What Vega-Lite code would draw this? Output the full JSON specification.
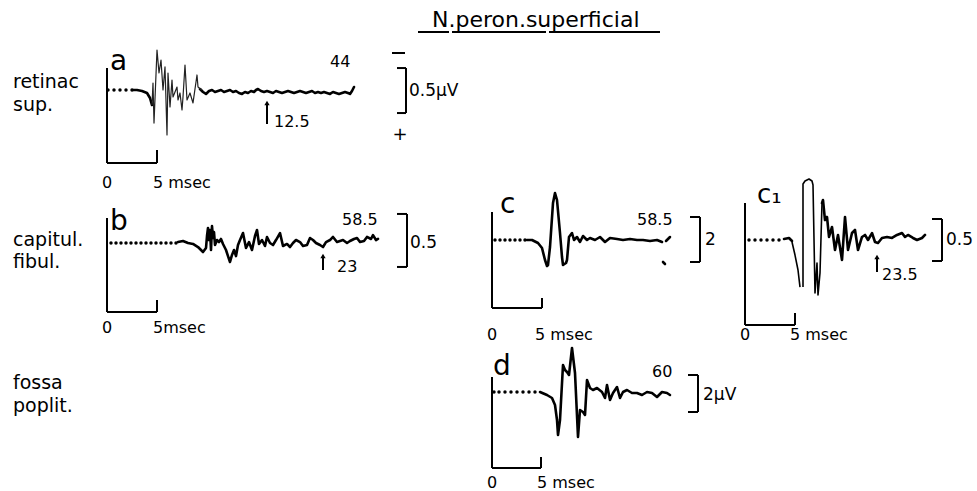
{
"$schema": "https://vega.github.io/schema/vega-lite/v6.json",
"width": 977, "height": 491, "autosize": {"type": "none"}, "padding": 0, "background": "white",
"config": {"view": {"stroke": null}, "text": {"font": "DejaVu Sans", "color": "black"}},
"data": {"values": [
{"panel":"a","part":"dot","t":0.1,"v":0},{"panel":"a","part":"dot","t":0.7,"v":0},{"panel":"a","part":"dot","t":1.3,"v":0},{"panel":"a","part":"dot","t":1.9,"v":0},{"panel":"a","part":"dot","t":2.5,"v":0},
{"panel":"a","part":"trace","seg":1,"t":2.6,"v":0},{"panel":"a","part":"trace","seg":1,"t":3.0,"v":0},{"panel":"a","part":"trace","seg":1,"t":3.5,"v":-0.011},{"panel":"a","part":"trace","seg":1,"t":4.0,"v":-0.033},{"panel":"a","part":"trace","seg":1,"t":4.3,"v":-0.089},{"panel":"a","part":"trace","seg":1,"t":4.5,"v":-0.167},
{"panel":"a","part":"thin","seg":2,"t":4.5,"v":-0.167},{"panel":"a","part":"thin","seg":2,"t":4.6,"v":0.078},{"panel":"a","part":"thin","seg":2,"t":4.7,"v":-0.367},{"panel":"a","part":"thin","seg":2,"t":5.0,"v":0.444},{"panel":"a","part":"thin","seg":2,"t":5.2,"v":0.189},{"panel":"a","part":"thin","seg":2,"t":5.4,"v":0.333},{"panel":"a","part":"thin","seg":2,"t":5.6,"v":0},{"panel":"a","part":"thin","seg":2,"t":5.8,"v":0.256},{"panel":"a","part":"thin","seg":2,"t":6.0,"v":-0.5},{"panel":"a","part":"thin","seg":2,"t":6.1,"v":0.189},{"panel":"a","part":"thin","seg":2,"t":6.3,"v":-0.189},{"panel":"a","part":"thin","seg":2,"t":6.5,"v":0.111},{"panel":"a","part":"thin","seg":2,"t":6.6,"v":-0.078},{"panel":"a","part":"thin","seg":2,"t":7.0,"v":0.033},{"panel":"a","part":"thin","seg":2,"t":7.1,"v":-0.111},{"panel":"a","part":"thin","seg":2,"t":7.3,"v":-0.033},{"panel":"a","part":"thin","seg":2,"t":7.5,"v":-0.222},{"panel":"a","part":"thin","seg":2,"t":7.6,"v":-0.078},{"panel":"a","part":"thin","seg":2,"t":7.8,"v":0.278},{"panel":"a","part":"thin","seg":2,"t":8.0,"v":-0.111},{"panel":"a","part":"thin","seg":2,"t":8.3,"v":-0.033},{"panel":"a","part":"thin","seg":2,"t":8.6,"v":-0.144},{"panel":"a","part":"thin","seg":2,"t":9.0,"v":0.167},{"panel":"a","part":"thin","seg":2,"t":9.1,"v":0.033},{"panel":"a","part":"thin","seg":2,"t":9.5,"v":0},
{"panel":"a","part":"trace","seg":3,"t":9.3,"v":0.011},{"panel":"a","part":"trace","seg":3,"t":9.6,"v":-0.022},{"panel":"a","part":"trace","seg":3,"t":9.9,"v":-0.044},{"panel":"a","part":"trace","seg":3,"t":10.2,"v":-0.011},{"panel":"a","part":"trace","seg":3,"t":10.5,"v":0},{"panel":"a","part":"trace","seg":3,"t":10.8,"v":-0.022},{"panel":"a","part":"trace","seg":3,"t":11.1,"v":-0.011},{"panel":"a","part":"trace","seg":3,"t":11.4,"v":0},{"panel":"a","part":"trace","seg":3,"t":11.7,"v":-0.022},{"panel":"a","part":"trace","seg":3,"t":12.0,"v":-0.011},{"panel":"a","part":"trace","seg":3,"t":12.3,"v":0},{"panel":"a","part":"trace","seg":3,"t":12.6,"v":-0.022},{"panel":"a","part":"trace","seg":3,"t":12.9,"v":-0.011},{"panel":"a","part":"trace","seg":3,"t":13.2,"v":-0.033},{"panel":"a","part":"trace","seg":3,"t":13.5,"v":-0.044},{"panel":"a","part":"trace","seg":3,"t":13.8,"v":-0.022},{"panel":"a","part":"trace","seg":3,"t":14.1,"v":-0.033},{"panel":"a","part":"trace","seg":3,"t":14.4,"v":-0.011},{"panel":"a","part":"trace","seg":3,"t":14.7,"v":-0.022},{"panel":"a","part":"trace","seg":3,"t":14.9,"v":0},{"panel":"a","part":"trace","seg":3,"t":15.1,"v":0.011},{"panel":"a","part":"trace","seg":3,"t":15.4,"v":-0.011},{"panel":"a","part":"trace","seg":3,"t":15.7,"v":-0.022},{"panel":"a","part":"trace","seg":3,"t":16.0,"v":-0.011},{"panel":"a","part":"trace","seg":3,"t":16.3,"v":-0.022},{"panel":"a","part":"trace","seg":3,"t":16.6,"v":-0.033},{"panel":"a","part":"trace","seg":3,"t":16.9,"v":-0.011},{"panel":"a","part":"trace","seg":3,"t":17.2,"v":-0.022},{"panel":"a","part":"trace","seg":3,"t":17.5,"v":-0.033},{"panel":"a","part":"trace","seg":3,"t":17.8,"v":-0.022},{"panel":"a","part":"trace","seg":3,"t":18.1,"v":-0.011},{"panel":"a","part":"trace","seg":3,"t":18.4,"v":-0.022},{"panel":"a","part":"trace","seg":3,"t":18.7,"v":-0.033},{"panel":"a","part":"trace","seg":3,"t":19.0,"v":-0.022},{"panel":"a","part":"trace","seg":3,"t":19.3,"v":-0.011},{"panel":"a","part":"trace","seg":3,"t":19.6,"v":-0.022},{"panel":"a","part":"trace","seg":3,"t":19.9,"v":-0.033},{"panel":"a","part":"trace","seg":3,"t":20.2,"v":-0.022},{"panel":"a","part":"trace","seg":3,"t":20.5,"v":-0.011},{"panel":"a","part":"trace","seg":3,"t":20.8,"v":-0.033},{"panel":"a","part":"trace","seg":3,"t":21.1,"v":-0.022},{"panel":"a","part":"trace","seg":3,"t":21.4,"v":-0.033},{"panel":"a","part":"trace","seg":3,"t":21.7,"v":-0.022},{"panel":"a","part":"trace","seg":3,"t":22.0,"v":-0.033},{"panel":"a","part":"trace","seg":3,"t":22.3,"v":-0.044},{"panel":"a","part":"trace","seg":3,"t":22.6,"v":-0.022},{"panel":"a","part":"trace","seg":3,"t":22.9,"v":-0.033},{"panel":"a","part":"trace","seg":3,"t":23.2,"v":-0.044},{"panel":"a","part":"trace","seg":3,"t":23.5,"v":-0.033},{"panel":"a","part":"trace","seg":3,"t":23.8,"v":-0.022},{"panel":"a","part":"trace","seg":3,"t":24.1,"v":-0.033},{"panel":"a","part":"trace","seg":3,"t":24.3,"v":-0.044},{"panel":"a","part":"trace","seg":3,"t":24.5,"v":-0.011},{"panel":"a","part":"trace","seg":3,"t":24.7,"v":0.033},
{"panel":"a","part":"rule","t":0,"v":0.244,"t2":0,"v2":-0.811},{"panel":"a","part":"rule","t":0,"v":-0.811,"t2":5,"v2":-0.811},{"panel":"a","part":"rule","t":5,"v":-0.667,"t2":5,"v2":-0.811},{"panel":"a","part":"rule","t":29.9,"v":0.244,"t2":29.9,"v2":-0.256},{"panel":"a","part":"rule","t":29.0,"v":0.244,"t2":29.9,"v2":0.244},{"panel":"a","part":"rule","t":29.0,"v":-0.256,"t2":29.9,"v2":-0.256},{"panel":"a","part":"rule","t":28.5,"v":0.411,"t2":29.8,"v2":0.411},{"panel":"a","part":"rule","t":16.0,"v":-0.144,"t2":16.0,"v2":-0.378},
{"panel":"a","part":"head","t":16.0,"v":-0.144},
{"panel":"a","part":"letter","t":0.3,"v":0.222,"text":"a"},{"panel":"a","part":"num","t":22.3,"v":0.256,"text":"44"},{"panel":"a","part":"num","t":16.7,"v":-0.411,"text":"12.5"},{"panel":"a","part":"num","t":-0.5,"v":-1.089,"text":"0"},{"panel":"a","part":"num","t":4.6,"v":-1.089,"text":"5 msec"},{"panel":"a","part":"unit","t":30.2,"v":-0.011,"text":"0.5µV"},{"panel":"a","part":"sign","t":29.3,"v":-0.5,"text":"+"},{"panel":"a","part":"row","t":-9.4,"v":0.022,"text":"retinac"},{"panel":"a","part":"row","t":-9.4,"v":-0.233,"text":"sup."},

{"panel":"b","part":"dot","t":0.4,"v":0},{"panel":"b","part":"dot","t":0.9,"v":0},{"panel":"b","part":"dot","t":1.4,"v":0},{"panel":"b","part":"dot","t":1.9,"v":0},{"panel":"b","part":"dot","t":2.4,"v":0},{"panel":"b","part":"dot","t":2.9,"v":0},{"panel":"b","part":"dot","t":3.4,"v":0},{"panel":"b","part":"dot","t":3.9,"v":0},{"panel":"b","part":"dot","t":4.4,"v":0},{"panel":"b","part":"dot","t":4.9,"v":0},{"panel":"b","part":"dot","t":5.4,"v":0},{"panel":"b","part":"dot","t":5.9,"v":0},{"panel":"b","part":"dot","t":6.4,"v":0},{"panel":"b","part":"dot","t":6.9,"v":0},
{"panel":"b","part":"trace","seg":1,"t":7.1,"v":0.009},{"panel":"b","part":"trace","seg":1,"t":7.6,"v":0.019},{"panel":"b","part":"trace","seg":1,"t":8.1,"v":0},{"panel":"b","part":"trace","seg":1,"t":8.6,"v":-0.009},{"panel":"b","part":"trace","seg":1,"t":9.1,"v":-0.038},{"panel":"b","part":"trace","seg":1,"t":9.6,"v":-0.085},{"panel":"b","part":"trace","seg":1,"t":9.9,"v":-0.047},{"panel":"b","part":"trace","seg":1,"t":10.0,"v":0.066},{"panel":"b","part":"trace","seg":1,"t":10.1,"v":0.142},{"panel":"b","part":"trace","seg":1,"t":10.2,"v":0.028},{"panel":"b","part":"trace","seg":1,"t":10.3,"v":0.123},{"panel":"b","part":"trace","seg":1,"t":10.4,"v":-0.066},{"panel":"b","part":"trace","seg":1,"t":10.5,"v":0.160},{"panel":"b","part":"trace","seg":1,"t":10.6,"v":0.047},{"panel":"b","part":"trace","seg":1,"t":10.7,"v":0.104},{"panel":"b","part":"trace","seg":1,"t":10.8,"v":-0.019},{"panel":"b","part":"trace","seg":1,"t":11.0,"v":0.028},{"panel":"b","part":"trace","seg":1,"t":11.2,"v":0.009},{"panel":"b","part":"trace","seg":1,"t":11.4,"v":0.038},{"panel":"b","part":"trace","seg":1,"t":11.6,"v":-0.009},{"panel":"b","part":"trace","seg":1,"t":11.9,"v":-0.066},{"panel":"b","part":"trace","seg":1,"t":12.1,"v":-0.123},{"panel":"b","part":"trace","seg":1,"t":12.3,"v":-0.179},{"panel":"b","part":"trace","seg":1,"t":12.5,"v":-0.113},{"panel":"b","part":"trace","seg":1,"t":12.7,"v":-0.066},{"panel":"b","part":"trace","seg":1,"t":12.9,"v":-0.123},{"panel":"b","part":"trace","seg":1,"t":13.1,"v":-0.019},{"panel":"b","part":"trace","seg":1,"t":13.3,"v":0.028},{"panel":"b","part":"trace","seg":1,"t":13.6,"v":0.094},{"panel":"b","part":"trace","seg":1,"t":13.9,"v":-0.047},{"panel":"b","part":"trace","seg":1,"t":14.2,"v":0.009},{"panel":"b","part":"trace","seg":1,"t":14.5,"v":-0.066},{"panel":"b","part":"trace","seg":1,"t":14.8,"v":0.066},{"panel":"b","part":"trace","seg":1,"t":15.0,"v":0.123},{"panel":"b","part":"trace","seg":1,"t":15.2,"v":-0.009},{"panel":"b","part":"trace","seg":1,"t":15.5,"v":0.028},{"panel":"b","part":"trace","seg":1,"t":15.8,"v":-0.028},{"panel":"b","part":"trace","seg":1,"t":16.0,"v":0.057},{"panel":"b","part":"trace","seg":1,"t":16.3,"v":0},{"panel":"b","part":"trace","seg":1,"t":16.6,"v":-0.019},{"panel":"b","part":"trace","seg":1,"t":16.9,"v":0.028},{"panel":"b","part":"trace","seg":1,"t":17.3,"v":0.094},{"panel":"b","part":"trace","seg":1,"t":17.6,"v":-0.028},{"panel":"b","part":"trace","seg":1,"t":18.0,"v":-0.009},{"panel":"b","part":"trace","seg":1,"t":18.3,"v":-0.038},{"panel":"b","part":"trace","seg":1,"t":18.6,"v":0},{"panel":"b","part":"trace","seg":1,"t":18.9,"v":0.028},{"panel":"b","part":"trace","seg":1,"t":19.3,"v":0.009},{"panel":"b","part":"trace","seg":1,"t":19.6,"v":-0.028},{"panel":"b","part":"trace","seg":1,"t":20.0,"v":-0.019},{"panel":"b","part":"trace","seg":1,"t":20.3,"v":0.047},{"panel":"b","part":"trace","seg":1,"t":20.6,"v":0.028},{"panel":"b","part":"trace","seg":1,"t":20.9,"v":0},{"panel":"b","part":"trace","seg":1,"t":21.3,"v":-0.019},{"panel":"b","part":"trace","seg":1,"t":21.6,"v":-0.038},{"panel":"b","part":"trace","seg":1,"t":21.9,"v":0.009},{"panel":"b","part":"trace","seg":1,"t":22.3,"v":0.028},{"panel":"b","part":"trace","seg":1,"t":22.6,"v":0.057},{"panel":"b","part":"trace","seg":1,"t":23.0,"v":0.009},{"panel":"b","part":"trace","seg":1,"t":23.3,"v":0.019},{"panel":"b","part":"trace","seg":1,"t":23.6,"v":0.028},{"panel":"b","part":"trace","seg":1,"t":24.0,"v":0},{"panel":"b","part":"trace","seg":1,"t":24.3,"v":0.019},{"panel":"b","part":"trace","seg":1,"t":24.7,"v":0.038},{"panel":"b","part":"trace","seg":1,"t":25.0,"v":0.047},{"panel":"b","part":"trace","seg":1,"t":25.3,"v":0.009},{"panel":"b","part":"trace","seg":1,"t":25.7,"v":0.019},{"panel":"b","part":"trace","seg":1,"t":26.0,"v":0.057},{"panel":"b","part":"trace","seg":1,"t":26.4,"v":0.038},{"panel":"b","part":"trace","seg":1,"t":26.6,"v":0.075},{"panel":"b","part":"trace","seg":1,"t":26.9,"v":0.028},{"panel":"b","part":"trace","seg":1,"t":27.1,"v":0.038},
{"panel":"b","part":"rule","t":0,"v":0.236,"t2":0,"v2":-0.651},{"panel":"b","part":"rule","t":0,"v":-0.651,"t2":5,"v2":-0.651},{"panel":"b","part":"rule","t":5,"v":-0.538,"t2":5,"v2":-0.651},{"panel":"b","part":"rule","t":30.0,"v":0.274,"t2":30.0,"v2":-0.226},{"panel":"b","part":"rule","t":29.0,"v":0.274,"t2":30.0,"v2":0.274},{"panel":"b","part":"rule","t":29.0,"v":-0.226,"t2":30.0,"v2":-0.226},{"panel":"b","part":"rule","t":21.6,"v":-0.123,"t2":21.6,"v2":-0.255},
{"panel":"b","part":"head","t":21.6,"v":-0.123},
{"panel":"b","part":"letter","t":0.3,"v":0.123,"text":"b"},{"panel":"b","part":"num","t":23.5,"v":0.170,"text":"58.5"},{"panel":"b","part":"num","t":23.0,"v":-0.274,"text":"23"},{"panel":"b","part":"num","t":-0.5,"v":-0.849,"text":"0"},{"panel":"b","part":"num","t":4.6,"v":-0.849,"text":"5msec"},{"panel":"b","part":"unit","t":30.3,"v":0,"text":"0.5"},{"panel":"b","part":"row","t":-9.4,"v":-0.028,"text":"capitul."},{"panel":"b","part":"row","t":-9.4,"v":-0.236,"text":"fibul."},

{"panel":"c","part":"dot","t":0.3,"v":0},{"panel":"c","part":"dot","t":0.8,"v":0},{"panel":"c","part":"dot","t":1.3,"v":0},{"panel":"c","part":"dot","t":1.8,"v":0},{"panel":"c","part":"dot","t":2.3,"v":0},{"panel":"c","part":"dot","t":2.8,"v":0},{"panel":"c","part":"dot","t":3.3,"v":0},
{"panel":"c","part":"trace","seg":1,"t":3.5,"v":0},{"panel":"c","part":"trace","seg":1,"t":4.0,"v":0},{"panel":"c","part":"trace","seg":1,"t":4.6,"v":-0.133},{"panel":"c","part":"trace","seg":1,"t":5.0,"v":-0.356},{"panel":"c","part":"trace","seg":1,"t":5.3,"v":-0.889},{"panel":"c","part":"trace","seg":1,"t":5.5,"v":-1.156},{"panel":"c","part":"trace","seg":1,"t":5.6,"v":-1.111},{"panel":"c","part":"trace","seg":1,"t":5.8,"v":-0.311},{"panel":"c","part":"trace","seg":1,"t":6.1,"v":1.644},{"panel":"c","part":"trace","seg":1,"t":6.3,"v":2.089},{"panel":"c","part":"trace","seg":1,"t":6.5,"v":1.778},{"panel":"c","part":"trace","seg":1,"t":6.8,"v":0.311},{"panel":"c","part":"trace","seg":1,"t":7.0,"v":-0.756},{"panel":"c","part":"trace","seg":1,"t":7.1,"v":-1.111},{"panel":"c","part":"trace","seg":1,"t":7.4,"v":-1.022},{"panel":"c","part":"trace","seg":1,"t":7.5,"v":-0.889},{"panel":"c","part":"trace","seg":1,"t":7.7,"v":0.133},{"panel":"c","part":"trace","seg":1,"t":8.0,"v":0.311},{"panel":"c","part":"trace","seg":1,"t":8.2,"v":0},{"panel":"c","part":"trace","seg":1,"t":8.5,"v":0.133},{"panel":"c","part":"trace","seg":1,"t":8.8,"v":-0.089},{"panel":"c","part":"trace","seg":1,"t":9.1,"v":0.178},{"panel":"c","part":"trace","seg":1,"t":9.5,"v":0},{"panel":"c","part":"trace","seg":1,"t":9.8,"v":0.089},{"panel":"c","part":"trace","seg":1,"t":10.3,"v":0},{"panel":"c","part":"trace","seg":1,"t":10.8,"v":0.133},{"panel":"c","part":"trace","seg":1,"t":11.3,"v":-0.089},{"panel":"c","part":"trace","seg":1,"t":11.8,"v":0.089},{"panel":"c","part":"trace","seg":1,"t":12.5,"v":0.044},{"panel":"c","part":"trace","seg":1,"t":13.1,"v":0},{"panel":"c","part":"trace","seg":1,"t":13.8,"v":0.044},{"panel":"c","part":"trace","seg":1,"t":14.5,"v":0},{"panel":"c","part":"trace","seg":1,"t":15.1,"v":0},{"panel":"c","part":"trace","seg":1,"t":15.8,"v":-0.044},{"panel":"c","part":"trace","seg":1,"t":16.5,"v":0},{"panel":"c","part":"trace","seg":1,"t":17.0,"v":-0.089},
{"panel":"c","part":"trace","seg":2,"t":17.4,"v":-0.044},{"panel":"c","part":"trace","seg":2,"t":17.8,"v":0.133},
{"panel":"c","part":"trace","seg":3,"t":17.1,"v":-0.978},{"panel":"c","part":"trace","seg":3,"t":17.3,"v":-1.067},
{"panel":"c","part":"rule","t":0,"v":1.244,"t2":0,"v2":-3.022},{"panel":"c","part":"rule","t":0,"v":-3.022,"t2":5,"v2":-3.022},{"panel":"c","part":"rule","t":5,"v":-2.578,"t2":5,"v2":-3.022},{"panel":"c","part":"rule","t":20.8,"v":1.022,"t2":20.8,"v2":-0.978},{"panel":"c","part":"rule","t":19.8,"v":1.022,"t2":20.8,"v2":1.022},{"panel":"c","part":"rule","t":19.8,"v":-0.978,"t2":20.8,"v2":-0.978},
{"panel":"c","part":"rule","t":-7.4,"v":9.244,"t2":-4.3,"v2":9.244},{"panel":"c","part":"rule","t":-4.0,"v":9.244,"t2":5.4,"v2":9.244},{"panel":"c","part":"rule","t":5.7,"v":9.244,"t2":16.8,"v2":9.244},
{"panel":"c","part":"letter","t":0.8,"v":1.2,"text":"c"},{"panel":"c","part":"num","t":14.5,"v":0.667,"text":"58.5"},{"panel":"c","part":"num","t":-0.5,"v":-4.444,"text":"0"},{"panel":"c","part":"num","t":4.3,"v":-4.444,"text":"5 msec"},{"panel":"c","part":"unit","t":21.3,"v":0,"text":"2"},{"panel":"c","part":"title","t":-6.0,"v":9.467,"text":"N.peron.superficial"},

{"panel":"c1","part":"dot","t":0.4,"v":0},{"panel":"c1","part":"dot","t":1.0,"v":0},{"panel":"c1","part":"dot","t":1.6,"v":0},{"panel":"c1","part":"dot","t":2.2,"v":0},{"panel":"c1","part":"dot","t":2.8,"v":0},{"panel":"c1","part":"dot","t":3.4,"v":0},
{"panel":"c1","part":"trace","seg":1,"t":3.9,"v":0.012},{"panel":"c1","part":"trace","seg":1,"t":4.4,"v":0.024},{"panel":"c1","part":"trace","seg":1,"t":4.7,"v":-0.012},
{"panel":"c1","part":"thin","seg":2,"t":4.7,"v":-0.024},{"panel":"c1","part":"thin","seg":2,"t":5.0,"v":-0.179},{"panel":"c1","part":"thin","seg":2,"t":5.3,"v":-0.357},{"panel":"c1","part":"thin","seg":2,"t":5.5,"v":-0.560},
{"panel":"c1","part":"thin","seg":3,"t":5.8,"v":-0.560},{"panel":"c1","part":"thin","seg":3,"t":5.8,"v":0.667},{"panel":"c1","part":"thin","seg":3,"t":6.0,"v":0.702},{"panel":"c1","part":"thin","seg":3,"t":6.4,"v":0.726},{"panel":"c1","part":"thin","seg":3,"t":6.7,"v":0.702},{"panel":"c1","part":"thin","seg":3,"t":6.8,"v":0.655},{"panel":"c1","part":"thin","seg":3,"t":7.0,"v":-0.631},{"panel":"c1","part":"thin","seg":3,"t":7.2,"v":-0.274},{"panel":"c1","part":"thin","seg":3,"t":7.3,"v":-0.655},{"panel":"c1","part":"thin","seg":3,"t":7.5,"v":-0.393},{"panel":"c1","part":"thin","seg":3,"t":7.7,"v":0.440},
{"panel":"c1","part":"trace","seg":4,"t":7.7,"v":0.440},{"panel":"c1","part":"trace","seg":4,"t":7.8,"v":0.476},{"panel":"c1","part":"trace","seg":4,"t":8.0,"v":0.238},{"panel":"c1","part":"trace","seg":4,"t":8.2,"v":0.274},{"panel":"c1","part":"trace","seg":4,"t":8.4,"v":0.036},{"panel":"c1","part":"trace","seg":4,"t":8.7,"v":0.155},{"panel":"c1","part":"trace","seg":4,"t":9.0,"v":-0.119},{"panel":"c1","part":"trace","seg":4,"t":9.3,"v":0.060},{"panel":"c1","part":"trace","seg":4,"t":9.7,"v":-0.238},{"panel":"c1","part":"trace","seg":4,"t":10.0,"v":0.274},{"panel":"c1","part":"trace","seg":4,"t":10.3,"v":-0.119},{"panel":"c1","part":"trace","seg":4,"t":10.7,"v":0.083},{"panel":"c1","part":"trace","seg":4,"t":11.0,"v":0.119},{"panel":"c1","part":"trace","seg":4,"t":11.3,"v":-0.119},{"panel":"c1","part":"trace","seg":4,"t":11.7,"v":0.036},{"panel":"c1","part":"trace","seg":4,"t":12.0,"v":0.060},{"panel":"c1","part":"trace","seg":4,"t":12.3,"v":0},{"panel":"c1","part":"trace","seg":4,"t":12.7,"v":0.083},{"panel":"c1","part":"trace","seg":4,"t":13.0,"v":-0.024},{"panel":"c1","part":"trace","seg":4,"t":13.3,"v":-0.036},{"panel":"c1","part":"trace","seg":4,"t":13.7,"v":0.024},{"panel":"c1","part":"trace","seg":4,"t":14.2,"v":0.036},{"panel":"c1","part":"trace","seg":4,"t":14.7,"v":0.024},{"panel":"c1","part":"trace","seg":4,"t":15.2,"v":0.060},{"panel":"c1","part":"trace","seg":4,"t":15.7,"v":0.083},{"panel":"c1","part":"trace","seg":4,"t":16.0,"v":0.036},{"panel":"c1","part":"trace","seg":4,"t":16.3,"v":0.060},{"panel":"c1","part":"trace","seg":4,"t":16.8,"v":0.024},{"panel":"c1","part":"trace","seg":4,"t":17.2,"v":0},{"panel":"c1","part":"trace","seg":4,"t":17.7,"v":0.024},{"panel":"c1","part":"trace","seg":4,"t":18.0,"v":0.060},
{"panel":"c1","part":"rule","t":0,"v":0.440,"t2":0,"v2":-1.012},{"panel":"c1","part":"rule","t":0,"v":-1.012,"t2":5,"v2":-1.012},{"panel":"c1","part":"rule","t":5,"v":-0.869,"t2":5,"v2":-1.012},{"panel":"c1","part":"rule","t":19.7,"v":0.25,"t2":19.7,"v2":-0.25},{"panel":"c1","part":"rule","t":18.7,"v":0.25,"t2":19.7,"v2":0.25},{"panel":"c1","part":"rule","t":18.7,"v":-0.25,"t2":19.7,"v2":-0.25},{"panel":"c1","part":"rule","t":13.2,"v":-0.202,"t2":13.2,"v2":-0.381},
{"panel":"c1","part":"head","t":13.2,"v":-0.202},
{"panel":"c1","part":"letter","t":1.2,"v":0.440,"text":"c₁"},{"panel":"c1","part":"num","t":13.7,"v":-0.476,"text":"23.5"},{"panel":"c1","part":"num","t":-0.5,"v":-1.190,"text":"0"},{"panel":"c1","part":"num","t":4.5,"v":-1.190,"text":"5 msec"},{"panel":"c1","part":"unit","t":20.1,"v":0,"text":"0.5"},

{"panel":"d","part":"dot","t":0.2,"v":0},{"panel":"d","part":"dot","t":0.7,"v":0},{"panel":"d","part":"dot","t":1.3,"v":0},{"panel":"d","part":"dot","t":1.9,"v":0},{"panel":"d","part":"dot","t":2.5,"v":0},{"panel":"d","part":"dot","t":3.1,"v":0},{"panel":"d","part":"dot","t":3.7,"v":0},{"panel":"d","part":"dot","t":4.3,"v":0},
{"panel":"d","part":"trace","seg":1,"t":4.8,"v":0},{"panel":"d","part":"trace","seg":1,"t":5.5,"v":-0.162},{"panel":"d","part":"trace","seg":1,"t":6.0,"v":-0.324},{"panel":"d","part":"trace","seg":1,"t":6.3,"v":-0.703},{"panel":"d","part":"trace","seg":1,"t":6.5,"v":-1.514},{"panel":"d","part":"trace","seg":1,"t":6.6,"v":-2.324},{"panel":"d","part":"trace","seg":1,"t":6.8,"v":-1.514},{"panel":"d","part":"trace","seg":1,"t":7.1,"v":1.459},{"panel":"d","part":"trace","seg":1,"t":7.3,"v":1.189},{"panel":"d","part":"trace","seg":1,"t":7.5,"v":1.081},{"panel":"d","part":"trace","seg":1,"t":7.7,"v":0.919},{"panel":"d","part":"trace","seg":1,"t":8.0,"v":2.378},{"panel":"d","part":"trace","seg":1,"t":8.3,"v":1.027},{"panel":"d","part":"trace","seg":1,"t":8.6,"v":-2.432},{"panel":"d","part":"trace","seg":1,"t":8.8,"v":-0.973},{"panel":"d","part":"trace","seg":1,"t":9.1,"v":-1.081},{"panel":"d","part":"trace","seg":1,"t":9.3,"v":-1.243},{"panel":"d","part":"trace","seg":1,"t":9.5,"v":0.649},{"panel":"d","part":"trace","seg":1,"t":9.8,"v":0.216},{"panel":"d","part":"trace","seg":1,"t":10.1,"v":0.108},{"panel":"d","part":"trace","seg":1,"t":10.5,"v":0.216},{"panel":"d","part":"trace","seg":1,"t":11.0,"v":0},{"panel":"d","part":"trace","seg":1,"t":11.3,"v":-0.324},{"panel":"d","part":"trace","seg":1,"t":11.5,"v":0.378},{"panel":"d","part":"trace","seg":1,"t":11.8,"v":-0.432},{"panel":"d","part":"trace","seg":1,"t":12.1,"v":-0.054},{"panel":"d","part":"trace","seg":1,"t":12.5,"v":0.270},{"panel":"d","part":"trace","seg":1,"t":12.8,"v":-0.324},{"panel":"d","part":"trace","seg":1,"t":13.1,"v":0},{"panel":"d","part":"trace","seg":1,"t":13.5,"v":0.108},{"panel":"d","part":"trace","seg":1,"t":14.0,"v":-0.054},{"panel":"d","part":"trace","seg":1,"t":14.5,"v":-0.054},{"panel":"d","part":"trace","seg":1,"t":15.0,"v":-0.162},{"panel":"d","part":"trace","seg":1,"t":15.5,"v":0},{"panel":"d","part":"trace","seg":1,"t":16.0,"v":-0.054},{"panel":"d","part":"trace","seg":1,"t":16.5,"v":-0.270},{"panel":"d","part":"trace","seg":1,"t":17.0,"v":0},{"panel":"d","part":"trace","seg":1,"t":17.5,"v":-0.054},{"panel":"d","part":"trace","seg":1,"t":17.8,"v":-0.162},
{"panel":"d","part":"rule","t":0,"v":0.811,"t2":0,"v2":-4.108},{"panel":"d","part":"rule","t":0,"v":-4.108,"t2":4.9,"v2":-4.108},{"panel":"d","part":"rule","t":4.9,"v":-3.514,"t2":4.9,"v2":-4.108},{"panel":"d","part":"rule","t":20.6,"v":0.919,"t2":20.6,"v2":-1.081},{"panel":"d","part":"rule","t":19.6,"v":0.919,"t2":20.6,"v2":0.919},{"panel":"d","part":"rule","t":19.6,"v":-1.081,"t2":20.6,"v2":-1.081},
{"panel":"d","part":"letter","t":0.1,"v":0.919,"text":"d"},{"panel":"d","part":"num","t":16.0,"v":0.811,"text":"60"},{"panel":"d","part":"num","t":-0.5,"v":-5.189,"text":"0"},{"panel":"d","part":"num","t":4.5,"v":-5.189,"text":"5 msec"},{"panel":"d","part":"unit","t":21.1,"v":-0.162,"text":"2µV"},{"panel":"d","part":"row","t":-47.9,"v":0.162,"text":"fossa"},{"panel":"d","part":"row","t":-47.9,"v":-1.081,"text":"poplit."}
]},
"resolve": {"scale": {"x": "independent", "y": "independent"}},
"layer": [
{"transform": [{"filter": "datum.panel === 'a'"}],
 "encoding": {"x": {"field": "t", "type": "quantitative", "axis": null, "scale": {"domain": [-10.7, 87.0], "nice": false, "zero": false}},
              "y": {"field": "v", "type": "quantitative", "axis": null, "scale": {"domain": [-4.4556, 1.0], "nice": false, "zero": false}}},
 "layer": [
  {"transform": [{"filter": "datum.part === 'dot'"}], "mark": {"type": "circle", "size": 12, "color": "black", "opacity": 1}},
  {"transform": [{"filter": "datum.part === 'trace'"}], "mark": {"type": "line", "color": "black", "strokeWidth": 2.6, "strokeJoin": "round", "strokeCap": "round"}, "encoding": {"detail": {"field": "seg", "type": "nominal"}, "order": {"value": null}}},
  {"transform": [{"filter": "datum.part === 'thin'"}], "mark": {"type": "line", "color": "#222", "strokeWidth": 1.2, "strokeJoin": "round"}, "encoding": {"detail": {"field": "seg", "type": "nominal"}, "order": {"value": null}}},
  {"transform": [{"filter": "datum.part === 'rule'"}], "mark": {"type": "rule", "color": "black", "strokeWidth": 2}, "encoding": {"x2": {"field": "t2"}, "y2": {"field": "v2"}}},
  {"transform": [{"filter": "datum.part === 'head'"}], "mark": {"type": "point", "shape": "triangle-up", "filled": true, "color": "black", "size": 28, "opacity": 1}},
  {"transform": [{"filter": "datum.part === 'letter'"}], "mark": {"type": "text", "fontSize": 28, "align": "left", "baseline": "alphabetic"}, "encoding": {"text": {"field": "text"}}},
  {"transform": [{"filter": "datum.part === 'num'"}], "mark": {"type": "text", "fontSize": 16, "align": "left", "baseline": "alphabetic"}, "encoding": {"text": {"field": "text"}}},
  {"transform": [{"filter": "datum.part === 'unit'"}], "mark": {"type": "text", "fontSize": 17, "align": "left", "baseline": "middle"}, "encoding": {"text": {"field": "text"}}},
  {"transform": [{"filter": "datum.part === 'row'"}], "mark": {"type": "text", "fontSize": 19, "align": "left", "baseline": "alphabetic"}, "encoding": {"text": {"field": "text"}}},
  {"transform": [{"filter": "datum.part === 'sign'"}], "mark": {"type": "text", "fontSize": 18, "align": "center", "baseline": "middle"}, "encoding": {"text": {"field": "text"}}}
 ]},
{"transform": [{"filter": "datum.panel === 'b'"}],
 "encoding": {"x": {"field": "t", "type": "quantitative", "axis": null, "scale": {"domain": [-10.7, 87.0], "nice": false, "zero": false}},
              "y": {"field": "v", "type": "quantitative", "axis": null, "scale": {"domain": [-2.3396, 2.2925], "nice": false, "zero": false}}},
 "layer": [
  {"transform": [{"filter": "datum.part === 'dot'"}], "mark": {"type": "circle", "size": 12, "color": "black", "opacity": 1}},
  {"transform": [{"filter": "datum.part === 'trace'"}], "mark": {"type": "line", "color": "black", "strokeWidth": 2.6, "strokeJoin": "round", "strokeCap": "round"}, "encoding": {"detail": {"field": "seg", "type": "nominal"}, "order": {"value": null}}},
  {"transform": [{"filter": "datum.part === 'rule'"}], "mark": {"type": "rule", "color": "black", "strokeWidth": 2}, "encoding": {"x2": {"field": "t2"}, "y2": {"field": "v2"}}},
  {"transform": [{"filter": "datum.part === 'head'"}], "mark": {"type": "point", "shape": "triangle-up", "filled": true, "color": "black", "size": 28, "opacity": 1}},
  {"transform": [{"filter": "datum.part === 'letter'"}], "mark": {"type": "text", "fontSize": 28, "align": "left", "baseline": "alphabetic"}, "encoding": {"text": {"field": "text"}}},
  {"transform": [{"filter": "datum.part === 'num'"}], "mark": {"type": "text", "fontSize": 16, "align": "left", "baseline": "alphabetic"}, "encoding": {"text": {"field": "text"}}},
  {"transform": [{"filter": "datum.part === 'unit'"}], "mark": {"type": "text", "fontSize": 17, "align": "left", "baseline": "middle"}, "encoding": {"text": {"field": "text"}}},
  {"transform": [{"filter": "datum.part === 'row'"}], "mark": {"type": "text", "fontSize": 19, "align": "left", "baseline": "alphabetic"}, "encoding": {"text": {"field": "text"}}}
 ]},
{"transform": [{"filter": "datum.panel === 'c'"}],
 "encoding": {"x": {"field": "t", "type": "quantitative", "axis": null, "scale": {"domain": [-49.2, 48.5], "nice": false, "zero": false}},
              "y": {"field": "v", "type": "quantitative", "axis": null, "scale": {"domain": [-11.156, 10.667], "nice": false, "zero": false}}},
 "layer": [
  {"transform": [{"filter": "datum.part === 'dot'"}], "mark": {"type": "circle", "size": 12, "color": "black", "opacity": 1}},
  {"transform": [{"filter": "datum.part === 'trace'"}], "mark": {"type": "line", "color": "black", "strokeWidth": 2.6, "strokeJoin": "round", "strokeCap": "round"}, "encoding": {"detail": {"field": "seg", "type": "nominal"}, "order": {"value": null}}},
  {"transform": [{"filter": "datum.part === 'rule'"}], "mark": {"type": "rule", "color": "black", "strokeWidth": 2}, "encoding": {"x2": {"field": "t2"}, "y2": {"field": "v2"}}},
  {"transform": [{"filter": "datum.part === 'letter'"}], "mark": {"type": "text", "fontSize": 28, "align": "left", "baseline": "alphabetic"}, "encoding": {"text": {"field": "text"}}},
  {"transform": [{"filter": "datum.part === 'num'"}], "mark": {"type": "text", "fontSize": 16, "align": "left", "baseline": "alphabetic"}, "encoding": {"text": {"field": "text"}}},
  {"transform": [{"filter": "datum.part === 'unit'"}], "mark": {"type": "text", "fontSize": 17, "align": "left", "baseline": "middle"}, "encoding": {"text": {"field": "text"}}},
  {"transform": [{"filter": "datum.part === 'title'"}], "mark": {"type": "text", "fontSize": 22, "align": "left", "baseline": "alphabetic"}, "encoding": {"text": {"field": "text"}}}
 ]},
{"transform": [{"filter": "datum.panel === 'c1'"}],
 "encoding": {"x": {"field": "t", "type": "quantitative", "axis": null, "scale": {"domain": [-74.5, 23.2], "nice": false, "zero": false}},
              "y": {"field": "v", "type": "quantitative", "axis": null, "scale": {"domain": [-2.988, 2.857], "nice": false, "zero": false}}},
 "layer": [
  {"transform": [{"filter": "datum.part === 'dot'"}], "mark": {"type": "circle", "size": 12, "color": "black", "opacity": 1}},
  {"transform": [{"filter": "datum.part === 'trace'"}], "mark": {"type": "line", "color": "black", "strokeWidth": 2.6, "strokeJoin": "round", "strokeCap": "round"}, "encoding": {"detail": {"field": "seg", "type": "nominal"}, "order": {"value": null}}},
  {"transform": [{"filter": "datum.part === 'thin'"}], "mark": {"type": "line", "color": "black", "strokeWidth": 1.6, "strokeJoin": "round"}, "encoding": {"detail": {"field": "seg", "type": "nominal"}, "order": {"value": null}}},
  {"transform": [{"filter": "datum.part === 'rule'"}], "mark": {"type": "rule", "color": "black", "strokeWidth": 2}, "encoding": {"x2": {"field": "t2"}, "y2": {"field": "v2"}}},
  {"transform": [{"filter": "datum.part === 'head'"}], "mark": {"type": "point", "shape": "triangle-up", "filled": true, "color": "black", "size": 28, "opacity": 1}},
  {"transform": [{"filter": "datum.part === 'letter'"}], "mark": {"type": "text", "fontSize": 26, "align": "left", "baseline": "alphabetic"}, "encoding": {"text": {"field": "text"}}},
  {"transform": [{"filter": "datum.part === 'num'"}], "mark": {"type": "text", "fontSize": 16, "align": "left", "baseline": "alphabetic"}, "encoding": {"text": {"field": "text"}}},
  {"transform": [{"filter": "datum.part === 'unit'"}], "mark": {"type": "text", "fontSize": 17, "align": "left", "baseline": "middle"}, "encoding": {"text": {"field": "text"}}}
 ]},
{"transform": [{"filter": "datum.panel === 'd'"}],
 "encoding": {"x": {"field": "t", "type": "quantitative", "axis": null, "scale": {"domain": [-49.2, 48.5], "nice": false, "zero": false}},
              "y": {"field": "v", "type": "quantitative", "axis": null, "scale": {"domain": [-5.351, 21.189], "nice": false, "zero": false}}},
 "layer": [
  {"transform": [{"filter": "datum.part === 'dot'"}], "mark": {"type": "circle", "size": 12, "color": "black", "opacity": 1}},
  {"transform": [{"filter": "datum.part === 'trace'"}], "mark": {"type": "line", "color": "black", "strokeWidth": 2.6, "strokeJoin": "round", "strokeCap": "round"}, "encoding": {"detail": {"field": "seg", "type": "nominal"}, "order": {"value": null}}},
  {"transform": [{"filter": "datum.part === 'rule'"}], "mark": {"type": "rule", "color": "black", "strokeWidth": 2}, "encoding": {"x2": {"field": "t2"}, "y2": {"field": "v2"}}},
  {"transform": [{"filter": "datum.part === 'letter'"}], "mark": {"type": "text", "fontSize": 28, "align": "left", "baseline": "alphabetic"}, "encoding": {"text": {"field": "text"}}},
  {"transform": [{"filter": "datum.part === 'num'"}], "mark": {"type": "text", "fontSize": 16, "align": "left", "baseline": "alphabetic"}, "encoding": {"text": {"field": "text"}}},
  {"transform": [{"filter": "datum.part === 'unit'"}], "mark": {"type": "text", "fontSize": 17, "align": "left", "baseline": "middle"}, "encoding": {"text": {"field": "text"}}},
  {"transform": [{"filter": "datum.part === 'row'"}], "mark": {"type": "text", "fontSize": 19, "align": "left", "baseline": "alphabetic"}, "encoding": {"text": {"field": "text"}}}
 ]}
]
}
